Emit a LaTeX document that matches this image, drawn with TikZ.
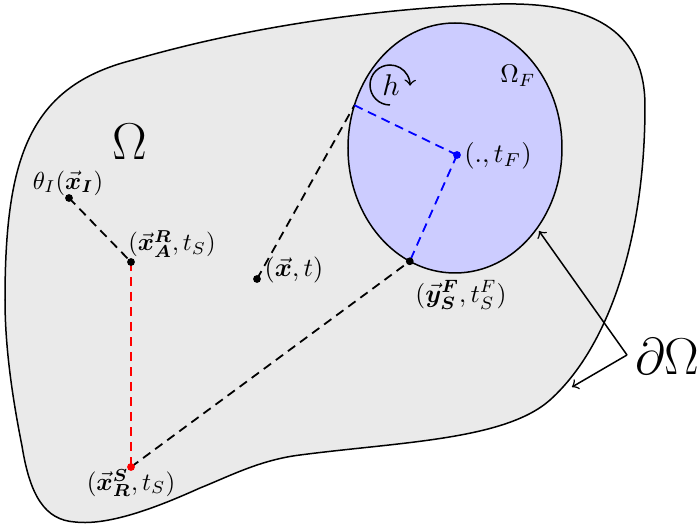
\documentclass[tikz,border=0pt]{standalone}
\usepackage{amsmath}
\usepackage{bm}
\usetikzlibrary{calc}
\definecolor{domgray}{RGB}{234,234,234}
\begin{document}
\begin{tikzpicture}[x=0.3333pt,y=0.3333pt,
  dot/.style={circle,fill=black,inner sep=0pt,minimum size=2.6pt},
  link/.style={dash pattern=on 3pt off 2pt,line width=0.6pt},
  lbl/.style={inner sep=0pt}]
\useasboundingbox (0,0) rectangle (700,526);
% outer domain
\draw[line width=0.5pt,fill=domgray]
  (5,226) .. controls (5,370) and (30,440) .. (133,466)
  .. controls (250,500) and (380,518) .. (500,522)
  .. controls (600,524) and (645,490) .. (645,420)
  .. controls (645,290) and (610,180) .. (550,126)
  .. controls (505,86) and (400,84) .. (300,71)
  .. controls (260,66) and (230,50) .. (200,38)
  .. controls (160,20) and (110,0) .. (75,4)
  .. controls (45,6) and (30,30) .. (22,80)
  .. controls (12,130) and (5,180) .. cycle;
% fluid subdomain
\coordinate (c) at (455,378);
\draw[line width=0.5pt,fill=blue!20] (c) ellipse [x radius=107, y radius=125];
% points
\coordinate (yS) at ($(c)+({107*cos(-115)},{125*sin(-115)})$);
\coordinate (E) at ($(c)+({107*cos(160)},{125*sin(160)})$);
\coordinate (th) at (69,328);
\coordinate (A) at (131,264);
\coordinate (R) at (131,59);
\coordinate (xt) at (257,247);
\coordinate (F) at (457,371);
% connectors
\draw[link] (th) -- (A);
\draw[link,red] (A) -- (R);
\draw[link] (R) -- (yS);
\draw[link] (xt) -- (E);
\draw[link,blue] (E) -- (F);
\draw[link,blue] (F) -- (yS);
% dots
\node[dot] at (th) {};
\node[dot] at (A) {};
\node[dot,fill=red] at (R) {};
\node[dot] at (xt) {};
\node[dot] at (yS) {};
\node[dot,fill=blue] at (F) {};
% labels
\node[lbl,scale=0.82] (lth) at (68,343) {$\theta_I(\vec{\bm{x}}_{\bm{I}})$};
\node[lbl,scale=0.82] (lA) at (172,282) {$(\vec{\bm{x}}^{\bm{R}}_{\bm{A}},t_S)$};
\node[lbl,scale=0.83] (lR) at (131,43) {$(\vec{\bm{x}}^{\bm{S}}_{\bm{R}},t_S)$};
\node[lbl,scale=0.87] (lxt) at (294,256) {$(\vec{\bm{x}},t)$};
\node[lbl,scale=0.85] (lyS) at (461,231) {$(\vec{\bm{y}}^{\bm{F}}_{\bm{S}},t^F_S)$};
\node[lbl,scale=0.89] (lF) at (498,370) {$(.,t_F)$};
\node[lbl,scale=0.85] (lOF) at (518,450) {$\Omega_F$};
\node[lbl] (lO) at (130,384) {\LARGE$\Omega$};
\node[lbl,anchor=east] (ldO) at (700,169) {\LARGE$\partial\Omega$};
% h rotation
\node[lbl] (h) at (391,441) {$h$};
\draw[line width=0.5pt,->] (390,421) arc[start angle=-90,end angle=-362,radius=20];
% boundary arrows
\coordinate (dOs) at (627,171);
\draw[line width=0.5pt,->] (dOs) -- (539,295);
\draw[line width=0.5pt,->] (dOs) -- (572,139);
\end{tikzpicture}
\end{document}
